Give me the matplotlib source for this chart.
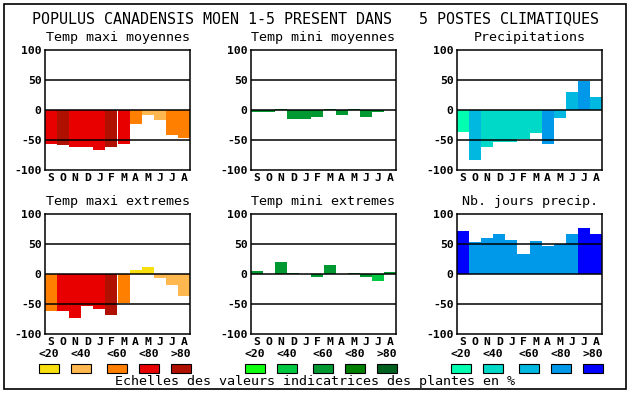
import numpy as np
import matplotlib
matplotlib.use("Agg")
import matplotlib.pyplot as plt
from matplotlib.patches import Rectangle

W, H = 630, 394

months = ["S", "O", "N", "D", "J", "F", "M", "A", "M", "J", "J", "A"]
classes = ["<20", "<40", "<60", "<80", ">80"]

reds = ["#f8e010", "#ffb850", "#ff8000", "#e80000", "#b01000"]
greens = ["#10ff10", "#00c840", "#009830", "#008000", "#006020"]
blues = ["#00ffb0", "#00d8c8", "#00b8e0", "#0098e8", "#0000ff"]

title = "POPULUS CANADENSIS MOEN 1-5 PRESENT DANS   5 POSTES CLIMATIQUES"
footer = "Echelles des valeurs indicatrices des plantes en %"

# values (% deviation) and indicator class of each month
tmax_moy = [-56, -58, -61, -61, -66, -61, -56, -23, -8, -16, -41, -46]
tmax_moy_cls = [3, 4, 3, 3, 3, 4, 3, 2, 1, 1, 2, 2]

tmin_moy = [-4, -3, 2, -15, -15, -11, 2, -8, 2, -11, -3, 0]
tmin_moy_cls = [2, 2, 2, 2, 2, 2, 2, 2, 2, 2, 2, 2]

precip = [-37, -83, -61, -53, -54, -49, -38, -56, -14, 30, 49, 22]
precip_cls = [0, 2, 1, 1, 1, 1, 1, 3, 2, 2, 3, 2]

tmax_ext = [-61, -61, -73, -53, -58, -68, -48, 7, 12, -6, -18, -36]
tmax_ext_cls = [2, 3, 3, 3, 3, 4, 2, 0, 0, 1, 1, 1]

tmin_ext = [5, 0, 20, 2, 0, -5, 15, 0, 2, -5, -11, 3]
tmin_ext_cls = [2, 2, 2, 2, 2, 2, 2, 2, 2, 2, 1, 2]

jours = [72, 53, 60, 67, 57, 33, 55, 47, 50, 67, 77, 67]
jours_cls = [4, 3, 3, 3, 3, 3, 3, 3, 3, 3, 4, 4]

panels = [
    ("Temp maxi moyennes", tmax_moy, tmax_moy_cls, reds),
    ("Temp mini moyennes", tmin_moy, tmin_moy_cls, greens),
    ("Precipitations", precip, precip_cls, blues),
    ("Temp maxi extremes", tmax_ext, tmax_ext_cls, reds),
    ("Temp mini extremes", tmin_ext, tmin_ext_cls, greens),
    ("Nb. jours precip.", jours, jours_cls, blues),
]

col_left = [45, 251, 457]
ax_w = 145
row_top = [50, 214]
ax_h = 120

mono = "DejaVu Sans Mono"

fig = plt.figure(figsize=(W / 100, H / 100), dpi=100)
fig.patches.append(Rectangle((4 / W, 1 - 389 / H), 622 / W, 385 / H,
                             transform=fig.transFigure, fill=False,
                             edgecolor="black", linewidth=1.2))

fig.text(315 / W, 1 - 19 / H, title, ha="center", va="center",
         family=mono, fontsize=10.8)

for i, (name, vals, cls, pal) in enumerate(panels):
    r, c = divmod(i, 3)
    left, top = col_left[c], row_top[r]
    ax = fig.add_axes([left / W, 1 - (top + ax_h) / H, ax_w / W, ax_h / H])
    x = np.arange(len(months))
    ax.bar(x, vals, width=1.0, color=[pal[k] for k in cls],
           linewidth=0, zorder=1)
    for yv in (-50, 0, 50):
        ax.axhline(yv, color="black", linewidth=1.1, zorder=3)
    ax.set_xlim(-0.5, 11.5)
    ax.set_ylim(-100, 100)
    ax.set_yticks([-100, -50, 0, 50, 100])
    ax.set_yticklabels(["-100", "-50", "0", "50", "100"],
                       family=mono, fontweight="bold", fontsize=8.2)
    ax.set_xticks(x)
    ax.set_xticklabels(months, family=mono, fontweight="bold", fontsize=8.2)
    ax.tick_params(length=0, pad=2.5)
    for s in ax.spines.values():
        s.set_linewidth(1.1)
    fig.text((left + ax_w / 2) / W, 1 - (top - 13) / H, name,
             ha="center", va="center", family=mono, fontsize=9.6)

    if r == 1:
        for k, (lab, col) in enumerate(zip(classes, pal)):
            bx = left + [-6, 26, 62, 94, 126][k]
            fig.text((bx + 10) / W, 1 - 354 / H, lab, ha="center",
                     va="center", family=mono, fontweight="bold",
                     fontsize=8.2)
            fig.patches.append(Rectangle((bx / W, 1 - 373 / H), 20 / W,
                                         9 / H, transform=fig.transFigure,
                                         facecolor=col, edgecolor="black",
                                         linewidth=0.8))

fig.text(315 / W, 1 - 382 / H, footer, ha="center", va="center",
         family=mono, fontsize=9.6)

fig.savefig("out.png", dpi=100)
